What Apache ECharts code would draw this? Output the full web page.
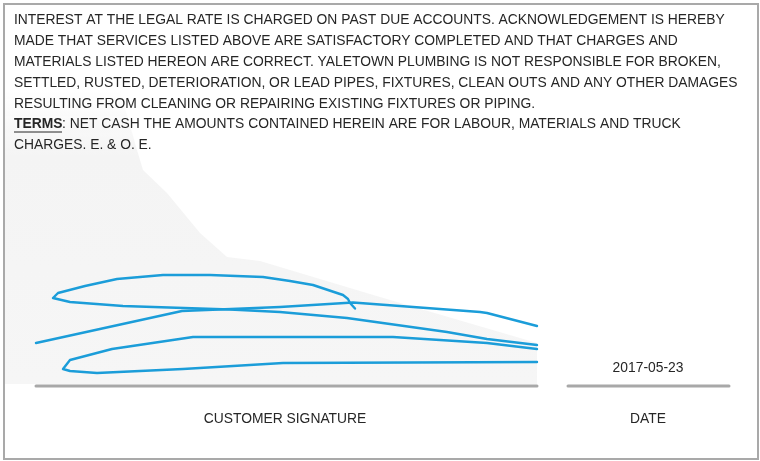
<!DOCTYPE html>
<html>
<head>
<meta charset="utf-8">
<script src="https://cdn.jsdelivr.net/npm/echarts@6/dist/echarts.min.js"></script>
<style>
html,body{margin:0;padding:0;background:#fff;}
#chart{width:760px;height:461px;}
</style>
</head>
<body>
<div id="chart"></div>
<script>
// Text content
var paragraphLines = [
  'INTEREST AT THE LEGAL RATE IS CHARGED ON PAST DUE ACCOUNTS. ACKNOWLEDGEMENT IS HEREBY',
  'MADE THAT SERVICES LISTED ABOVE ARE SATISFACTORY COMPLETED AND THAT CHARGES AND',
  'MATERIALS LISTED HEREON ARE CORRECT. YALETOWN PLUMBING IS NOT RESPONSIBLE FOR BROKEN,',
  'SETTLED, RUSTED, DETERIORATION, OR LEAD PIPES, FIXTURES, CLEAN OUTS AND ANY OTHER DAMAGES',
  'RESULTING FROM CLEANING OR REPAIRING EXISTING FIXTURES OR PIPING.'
];
var termsLabel = 'TERMS';
var termsLines = [
  ': NET CASH THE AMOUNTS CONTAINED HEREIN ARE FOR LABOUR, MATERIALS AND TRUCK',
  'CHARGES. E. & O. E.'
];
var signatureLabel = 'CUSTOMER SIGNATURE';
var dateLabel = 'DATE';
var dateValue = '2017-05-23';

// Signature strokes (x, y in page units)
var sigStrokeA = [[36,343],[182,311],[280,307],[353,302.5],[480,312],[487,313],[537,326]];
var sigStrokeB = [[537,345],[487,339],[447,332],[347,318],[280,312],[230,309.5],[123,306],[70,302],[53,298],[58,293],[85,286],[117,279],[163,275],[210,275],[263,277],[290,281],[313,285],[343,295],[348,299],[350,303],[355,308.5]];
var sigStrokeC = [[537,349],[487,343],[393,337],[193,337],[112,349],[70,360],[63,369],[70,371],[97,373],[183,369],[283,363],[537,362]];

// Signature / date rules
var sigRule = [[36,386],[537,386]];
var dateRule = [[568,386],[729,386]];

var FONT = 'Liberation Sans, Arial, Helvetica, sans-serif';
var FS = '13.85px ';
var TEXT_COLOR = '#262626';
var LINE_H = 20.8;
var TOP_Y = 20.5;

var chart = echarts.init(document.getElementById('chart'), null, {renderer:'canvas'});

var graphics = [];
// faint watermark
graphics.push({
  type:'polygon', z:-10, silent:true,
  shape:{points:[[5,90],[120,90],[137,150],[143,170],[167,193],[200,233],[227,257],[260,261],[300,273],[380,297],[537,343],[537,384],[5,384]]},
  style:{fill:new echarts.graphic.LinearGradient(0,0,0,1,[
    {offset:0,color:'rgba(244,244,244,0)'},
    {offset:0.22,color:'rgba(244,244,244,1)'},
    {offset:1,color:'rgba(246,246,246,1)'}])}
});
// border
graphics.push({
  type:'rect', z:50, silent:true,
  shape:{x:4,y:4,width:754,height:455},
  style:{fill:null, stroke:'#a9a9a9', lineWidth:2}
});
paragraphLines.forEach(function(t,i){
  graphics.push({type:'text', z:20, x:14, y:TOP_Y + i*LINE_H,
    style:{text:t, font:FS+FONT, fill:TEXT_COLOR, verticalAlign:'middle'}});
});
var termsY = TOP_Y + paragraphLines.length*LINE_H;
graphics.push({type:'text', z:20, x:14, y:termsY,
  style:{text:termsLabel, font:'bold '+FS+FONT, fill:TEXT_COLOR, verticalAlign:'middle'}});
graphics.push({type:'line', z:20, shape:{x1:14,y1:termsY+7.5,x2:62,y2:termsY+7.5},
  style:{stroke:TEXT_COLOR, lineWidth:1}});
graphics.push({type:'text', z:20, x:62, y:termsY,
  style:{text:termsLines[0], font:FS+FONT, fill:TEXT_COLOR, verticalAlign:'middle'}});
graphics.push({type:'text', z:20, x:14, y:termsY+LINE_H,
  style:{text:termsLines[1], font:FS+FONT, fill:TEXT_COLOR, verticalAlign:'middle'}});
graphics.push({type:'text', z:20, x:285, y:419,
  style:{text:signatureLabel, font:FS+FONT, fill:TEXT_COLOR, align:'center', verticalAlign:'middle'}});
graphics.push({type:'text', z:20, x:648, y:419,
  style:{text:dateLabel, font:FS+FONT, fill:TEXT_COLOR, align:'center', verticalAlign:'middle'}});
graphics.push({type:'text', z:20, x:648, y:368,
  style:{text:dateValue, font:FS+FONT, fill:TEXT_COLOR, align:'center', verticalAlign:'middle'}});

function lineSeries(data, color, width){
  return {type:'line', data:data, showSymbol:false, symbol:'none', smooth:false,
    lineStyle:{color:color, width:width, cap:'round', join:'round'}, silent:true, animation:false, z:5};
}

chart.setOption({
  animation:false,
  grid:{left:0,right:0,top:0,bottom:0,containLabel:false},
  xAxis:{type:'value',min:0,max:760,show:false},
  yAxis:{type:'value',min:0,max:461,inverse:true,show:false},
  series:[
    lineSeries(sigRule,'#a8a8a8',3),
    lineSeries(dateRule,'#a8a8a8',3),
    lineSeries(sigStrokeA,'#1b9dd9',2.4),
    lineSeries(sigStrokeB,'#1b9dd9',2.4),
    lineSeries(sigStrokeC,'#1b9dd9',2.4)
  ],
  graphic:{elements:graphics}
});
</script>
</body>
</html>
